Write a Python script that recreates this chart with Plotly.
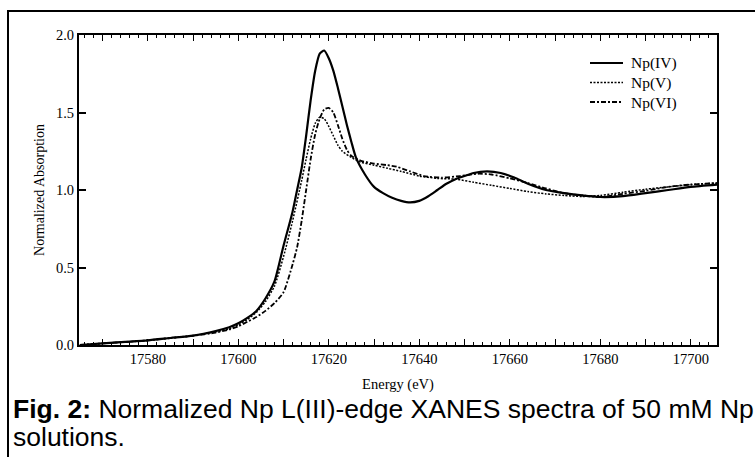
import plotly.graph_objects as go

# ---- data ----
energy_iv = [17565, 17570, 17575, 17580, 17585, 17590, 17595, 17598, 17600, 17602, 17604, 17606,
             17608, 17610, 17612, 17613, 17614, 17615, 17616, 17617, 17618, 17619, 17620, 17621,
             17622, 17623, 17624, 17625, 17626, 17628, 17630, 17632, 17634, 17636, 17638, 17640,
             17642, 17644, 17646, 17648, 17650, 17652, 17655, 17658, 17661, 17664, 17668, 17672,
             17676, 17680, 17685, 17690, 17695, 17700, 17706]
np_iv = [0.00, 0.01, 0.02, 0.03, 0.045, 0.06, 0.09, 0.115, 0.14, 0.175, 0.22, 0.30,
         0.41, 0.64, 0.86, 1.00, 1.14, 1.35, 1.58, 1.77, 1.88, 1.90, 1.85, 1.77,
         1.66, 1.54, 1.42, 1.31, 1.21, 1.10, 1.02, 0.98, 0.95, 0.93, 0.92, 0.93,
         0.96, 1.00, 1.04, 1.07, 1.09, 1.11, 1.12, 1.11, 1.08, 1.04, 1.00, 0.98,
         0.965, 0.955, 0.96, 0.98, 1.00, 1.02, 1.035]

energy_v = [17565, 17570, 17575, 17580, 17585, 17590, 17595, 17598, 17600, 17602, 17604, 17606,
            17608, 17610, 17612, 17614, 17615, 17616, 17617, 17618, 17619, 17620, 17621, 17622,
            17623, 17625, 17627, 17630, 17633, 17636, 17640, 17644, 17648, 17652, 17656, 17660,
            17664, 17668, 17672, 17676, 17680, 17685, 17690, 17695, 17700, 17706]
np_v = [0.00, 0.01, 0.02, 0.03, 0.045, 0.06, 0.085, 0.105, 0.13, 0.165, 0.21, 0.28,
        0.38, 0.57, 0.80, 1.06, 1.20, 1.33, 1.43, 1.47, 1.46, 1.41, 1.35, 1.29,
        1.25, 1.21, 1.18, 1.16, 1.14, 1.12, 1.09, 1.075, 1.07, 1.05, 1.03, 1.01,
        0.99, 0.975, 0.965, 0.958, 0.965, 0.985, 1.005, 1.02, 1.035, 1.045]

energy_vi = [17565, 17570, 17575, 17580, 17585, 17590, 17595, 17598, 17600, 17602, 17604, 17606,
             17608, 17610, 17612, 17613, 17614, 17615, 17616, 17617, 17618, 17619, 17620, 17621,
             17622, 17623, 17624, 17625, 17627, 17630, 17633, 17635, 17638, 17641, 17645, 17649,
             17653, 17656, 17660, 17664, 17668, 17672, 17676, 17680, 17685, 17690, 17695, 17700, 17706]
np_vi = [0.00, 0.01, 0.02, 0.03, 0.045, 0.06, 0.08, 0.10, 0.12, 0.15, 0.18, 0.22,
         0.27, 0.34, 0.52, 0.63, 0.80, 1.00, 1.20, 1.36, 1.46, 1.52, 1.53, 1.50,
         1.42, 1.33, 1.26, 1.22, 1.19, 1.17, 1.16, 1.15, 1.12, 1.09, 1.08, 1.09,
         1.105, 1.10, 1.075, 1.045, 1.01, 0.98, 0.965, 0.955, 0.975, 0.995, 1.02, 1.035, 1.045]

series_names = ["Np(IV)", "Np(V)", "Np(VI)"]
x_tickvals = [17570, 17580, 17590, 17600, 17610, 17620, 17630, 17640, 17650, 17660, 17670, 17680, 17690, 17700]
x_ticktext = ["", "17580", "", "17600", "", "17620", "", "17640", "", "17660", "", "17680", "", "17700"]
y_tickvals = [0.0, 0.5, 1.0, 1.5, 2.0]
caption_line1 = "<b>Fig. 2:</b> Normalized Np L(III)-edge XANES spectra of 50 mM Np"
caption_line2 = "solutions."

serif = "Liberation Serif, Times New Roman, serif"
sans = "Liberation Sans, Arial, sans-serif"

styles = [
    dict(color="black", width=2.2),
    dict(color="black", width=1.5, dash="2px,1.5px"),
    dict(color="black", width=1.8, dash="5px,2px,2px,2px"),
]

fig = go.Figure()
for xs, ys, name, st in zip([energy_iv, energy_v, energy_vi], [np_iv, np_v, np_vi], series_names, styles):
    fig.add_trace(go.Scatter(x=xs, y=ys, name=name, mode="lines", showlegend=False,
                             line=dict(shape="spline", smoothing=0.6, **st)))

W, H = 755, 457
L, R, T, B = 79, 38, 35, 112
pw, ph = W - L - R, H - T - B

def px_x(p):
    return (p - L) / pw

def px_y(p):
    return (H - B - p) / ph

fig.update_layout(
    width=W, height=H,
    margin=dict(l=L, r=R, t=T, b=B, autoexpand=False),
    paper_bgcolor="white", plot_bgcolor="white",
    showlegend=False,
    font=dict(family=serif, color="black"),
)

fig.update_xaxes(
    range=[17564.8, 17705.8], automargin=False,
    tickvals=x_tickvals, ticktext=x_ticktext,
    ticks="inside", ticklen=6, tickwidth=1.2, tickcolor="black",
    minor=dict(dtick=2, tick0=17560, ticks="inside", ticklen=3, tickwidth=1, tickcolor="black"),
    showline=True, linewidth=2, linecolor="black", mirror="ticks",
    showgrid=False, zeroline=False,
    tickfont=dict(family=serif, size=14.5, color="black"),
    title=dict(text="Energy (eV)", font=dict(family=serif, size=14.5, color="black"), standoff=12),
)
fig.update_yaxes(
    range=[0, 2.0], automargin=False,
    tickvals=y_tickvals, tickformat=".1f",
    ticks="inside", ticklen=7, tickwidth=1.5, tickcolor="black",
    showline=True, linewidth=2, linecolor="black", mirror="ticks",
    showgrid=False, zeroline=False,
    tickfont=dict(family=serif, size=14.5, color="black"),
    title=dict(text="Normalized Absorption", font=dict(family=serif, size=14, color="black"), standoff=8),
)

# legend drawn as sample lines + one multi-line label block
legend_rows = [63, 82.5, 102]
for st, ry in zip(styles, legend_rows):
    fig.add_shape(type="line", xref="paper", yref="paper",
                  x0=px_x(590), x1=px_x(623), y0=px_y(ry), y1=px_y(ry),
                  line=st)
fig.add_annotation(xref="paper", yref="paper", x=px_x(629), y=px_y(legend_rows[1]),
                   xanchor="left", yanchor="middle", align="left", showarrow=False,
                   text="<br>".join(series_names), font=dict(family=serif, size=15.5, color="black"))

# outer frame box
fig.add_shape(type="rect", xref="paper", yref="paper",
              x0=px_x(8), x1=px_x(762), y0=px_y(11), y1=px_y(470),
              line=dict(color="black", width=2), fillcolor="rgba(0,0,0,0)", layer="above")

# caption (two lines, tight leading)
fig.add_annotation(xref="paper", yref="paper", x=px_x(11), y=px_y(409),
                   xanchor="left", yanchor="middle", align="left", showarrow=False,
                   text=caption_line1, font=dict(family=sans, size=26.5, color="black"))
fig.add_annotation(xref="paper", yref="paper", x=px_x(11), y=px_y(437),
                   xanchor="left", yanchor="middle", align="left", showarrow=False,
                   text=caption_line2, font=dict(family=sans, size=26.5, color="black"))

fig.write_html("out.html")
